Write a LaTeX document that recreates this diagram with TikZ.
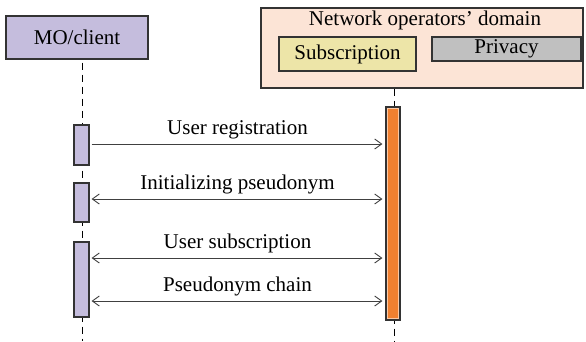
\documentclass[tikz,border=0pt]{standalone}
\usepackage{fontspec}
\setmainfont{Liberation Serif}
\usetikzlibrary{arrows.meta,positioning}
\definecolor{clientfill}{RGB}{197,189,221}
\definecolor{domainfill}{RGB}{252,228,214}
\definecolor{subfill}{RGB}{237,229,168}
\definecolor{privfill}{RGB}{192,192,192}
\definecolor{srvfill}{RGB}{240,128,48}
\definecolor{srvline}{RGB}{250,200,165}

\begin{document}
\begin{tikzpicture}[x=1pt,y=-1pt,font=\fontsize{21}{24}\selectfont,
    box/.style={draw=black!80,line width=1.1pt,inner sep=0pt},
    act/.style={box,fill=clientfill,minimum width=15pt},
    life/.style={draw=black,line width=0.9pt,dash pattern=on 7pt off 5pt},
    msg/.style={draw=black!75,line width=0.9pt,-{Straight Barb[length=7pt,width=10pt]}},
    dmsg/.style={msg,{Straight Barb[length=7pt,width=10pt]}-{Straight Barb[length=7pt,width=10pt]}}]
                    \useasboundingbox (0,0) rectangle (586,341);
                    % lifelines
                    \coordinate (cl) at (82,341);
                    \coordinate (sl) at (394,341);
                    \node[box,fill=domainfill,minimum width=322pt,minimum height=80pt] (domain) at (422,48) {};
                    \node (dtitle) at (425,20) {Network operators’ domain};
                    \node[box,fill=subfill,minimum width=137pt,minimum height=34pt] (sub) at (347.5,54) {Subscription};
                    \node[box,fill=privfill,minimum width=149pt,minimum height=24pt] (priv) at (506.5,49) {Privacy};
                    \node[box,fill=clientfill,minimum width=142pt,minimum height=43pt] (client) at (77,37.5) {MO/client};
                    \draw[life] (client.south -| cl) ++(0,3) -- (cl);
                    \draw[life] (domain.south -| sl) -- (sl);
                    % activation bars
                    \node[act,minimum height=40pt] (act1) at (81.5,145) {};
                    \node[act,minimum height=39pt] (act2) at (81.5,202.5) {};
                    \node[act,minimum height=75pt] (act3) at (81.5,279.5) {};
                    \node[box,fill=srvfill,minimum width=14pt,minimum height=213pt] (srv) at (393,213.5) {};
                    \draw[srvline,line width=1pt] ([xshift=2.5pt,yshift=-2.5pt]srv.north west) rectangle ([xshift=-2.5pt,yshift=2.5pt]srv.south east);
                    % messages
                    \coordinate (m1) at (0,144);
                    \coordinate (m2) at (0,199);
                    \coordinate (m3) at (0,258);
                    \coordinate (m4) at (0,301);
                    \draw[msg,shorten <=2pt,shorten >=3pt] (act1.east |- m1) -- node[above=1pt] {User registration} (srv.west |- m1);
                    \draw[dmsg,shorten <=2pt,shorten >=3pt] (act2.east |- m2) -- node[above=1pt] {Initializing pseudonym} (srv.west |- m2);
                    \draw[dmsg,shorten <=2pt,shorten >=3pt] (act3.east |- m3) -- node[above=1pt] {User subscription} (srv.west |- m3);
                    \draw[dmsg,shorten <=2pt,shorten >=3pt] (act3.east |- m4) -- node[above=1pt] {Pseudonym chain} (srv.west |- m4);
                \end{tikzpicture}
\end{document}
